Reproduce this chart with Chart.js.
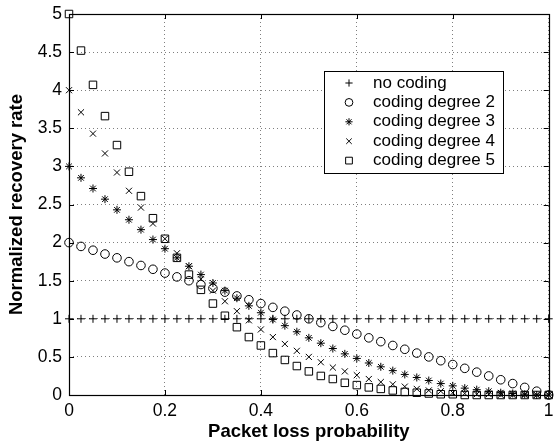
<!DOCTYPE html>
<html>
<head>
<meta charset="utf-8">
<script src="https://cdn.jsdelivr.net/npm/chart.js@4/dist/chart.umd.min.js"></script>
<style>
  html, body { margin: 0; padding: 0; background: #fff; }
  #wrap { width: 555px; height: 443px; }
</style>
</head>
<body>
<div id="wrap"><canvas id="lossChart" width="555" height="443"></canvas></div>
<script>
// packet loss probability, step 0.025
const lossProb = [0, 0.025, 0.05, 0.075, 0.1, 0.125, 0.15, 0.175, 0.2, 0.225, 0.25, 0.275, 0.3, 0.325, 0.35,
    0.375, 0.4, 0.425, 0.45, 0.475, 0.5, 0.525, 0.55, 0.575, 0.6, 0.625, 0.65, 0.675, 0.7, 0.725, 0.75,
    0.775, 0.8, 0.825, 0.85, 0.875, 0.9, 0.925, 0.95, 0.975, 1];

const noCoding = [1, 1, 1, 1, 1, 1, 1, 1, 1, 1, 1, 1, 1, 1, 1, 1, 1, 1, 1, 1, 1,
    1, 1, 1, 1, 1, 1, 1, 1, 1, 1, 1, 1, 1, 1, 1, 1, 1, 1, 1, 1];
const degree2 = [2, 1.95, 1.9, 1.85, 1.8, 1.75, 1.7, 1.65, 1.6, 1.55, 1.5, 1.45, 1.4, 1.35, 1.3, 1.25, 1.2,
    1.15, 1.1, 1.05, 1.0, 0.95, 0.9, 0.85, 0.8, 0.75, 0.7, 0.65, 0.6, 0.55, 0.5, 0.45, 0.4, 0.35, 0.3,
    0.25, 0.2, 0.15, 0.1, 0.05, 0];
const degree3 = [3, 2.85, 2.71, 2.57, 2.43, 2.30, 2.17, 2.04, 1.92, 1.80, 1.69, 1.58, 1.47, 1.37, 1.27, 1.17,
    1.08, 0.99, 0.91, 0.83, 0.75, 0.68, 0.61, 0.54, 0.48, 0.42, 0.37, 0.32, 0.27, 0.23, 0.19, 0.15, 0.12,
    0.09, 0.07, 0.05, 0.03, 0.02, 0.01, 0.00, 0];
const degree4 = [4, 3.71, 3.43, 3.17, 2.92, 2.68, 2.46, 2.25, 2.05, 1.86, 1.69, 1.52, 1.37, 1.23, 1.10, 0.98,
    0.86, 0.76, 0.67, 0.58, 0.5, 0.43, 0.36, 0.31, 0.26, 0.21, 0.17, 0.14, 0.11, 0.08, 0.06, 0.05, 0.03,
    0.02, 0.01, 0.01, 0.00, 0, 0, 0, 0];
const degree5 = [5, 4.52, 4.07, 3.66, 3.28, 2.93, 2.61, 2.32, 2.05, 1.80, 1.58, 1.38, 1.20, 1.04, 0.89, 0.76,
    0.65, 0.55, 0.46, 0.38, 0.31, 0.25, 0.21, 0.16, 0.13, 0.10, 0.08, 0.06, 0.04, 0.03, 0.02, 0.01, 0.01,
    0, 0, 0, 0, 0, 0, 0, 0];

const seriesNames = ['no coding', 'coding degree 2', 'coding degree 3', 'coding degree 4', 'coding degree 5'];
const xTicks = [0, 0.2, 0.4, 0.6, 0.8, 1];
const yTicks = [0, 0.5, 1, 1.5, 2, 2.5, 3, 3.5, 4, 4.5, 5];

const FONT = '"Liberation Sans", Arial, Helvetica, sans-serif';

const markers = [
    { style: 'cross', r: 4 },
    { style: 'circle', r: 4.3 },
    { style: 'star', r: 4 },
    { style: 'crossRot', r: 4.3 },
    { style: 'rect', r: 5.3 },
];

function toPoints(ys) {
    return lossProb.map((p, i) => ({ x: p, y: ys[i] }));
}

const allSeries = [noCoding, degree2, degree3, degree4, degree5];

const datasets = allSeries.map((ys, i) => ({
    label: seriesNames[i],
    data: toPoints(ys),
    showLine: false,
    pointStyle: markers[i].style,
    pointRadius: markers[i].r,
    pointHoverRadius: markers[i].r,
    pointBorderColor: '#000',
    pointBackgroundColor: 'rgba(0,0,0,0)',
    pointBorderWidth: 1,
    clip: false,
}));

// box around the plot plus the inward tick marks
const frame = {
    id: 'frame',
    beforeDatasetsDraw(chart) {
        const { ctx, chartArea: a, scales } = chart;
        ctx.save();
        ctx.strokeStyle = '#000';
        ctx.lineWidth = 1;
        ctx.beginPath();
        xTicks.forEach(v => {
            const x = Math.round(scales.x.getPixelForValue(v)) + 0.5;
            ctx.moveTo(x, a.bottom); ctx.lineTo(x, a.bottom - 5);
            ctx.moveTo(x, a.top); ctx.lineTo(x, a.top + 5);
        });
        yTicks.forEach(v => {
            const y = Math.round(scales.y.getPixelForValue(v)) + 0.5;
            ctx.moveTo(a.left, y); ctx.lineTo(a.left + 5, y);
            ctx.moveTo(a.right, y); ctx.lineTo(a.right - 5, y);
        });
        ctx.stroke();
        ctx.lineWidth = 1.2;
        ctx.strokeRect(Math.round(a.left) + 0.5, Math.round(a.top) + 0.5,
            Math.round(a.right - a.left), Math.round(a.bottom - a.top));
        ctx.restore();
    }
};

function drawMarker(ctx, style, r, x, y) {
    ctx.beginPath();
    if (style === 'circle') {
        ctx.arc(x, y, r, 0, Math.PI * 2);
    } else if (style === 'rect') {
        const s = r * Math.SQRT1_2;
        ctx.rect(x - s, y - s, 2 * s, 2 * s);
    } else {
        if (style === 'cross' || style === 'star') {
            ctx.moveTo(x - r, y); ctx.lineTo(x + r, y);
            ctx.moveTo(x, y - r); ctx.lineTo(x, y + r);
        }
        if (style === 'crossRot' || style === 'star') {
            const d = r * Math.SQRT1_2;
            ctx.moveTo(x - d, y - d); ctx.lineTo(x + d, y + d);
            ctx.moveTo(x - d, y + d); ctx.lineTo(x + d, y - d);
        }
    }
    ctx.stroke();
}

// legend box drawn inside the plot area
const legendBox = {
    id: 'legendBox',
    afterDatasetsDraw(chart) {
        const { ctx } = chart;
        ctx.save();
        ctx.fillStyle = '#fff';
        ctx.fillRect(324.5, 71.5, 179, 102);
        ctx.strokeStyle = '#000';
        ctx.lineWidth = 1;
        ctx.strokeRect(324.5, 71.5, 179, 102);
        ctx.font = '17px ' + FONT;
        ctx.fillStyle = '#000';
        ctx.textBaseline = 'middle';
        seriesNames.forEach((name, i) => {
            const y = 83 + i * 19.4;
            drawMarker(ctx, markers[i].style, markers[i].r * 0.9, 349, y);
            ctx.fillText(name, 373, y);
        });
        ctx.restore();
    }
};

new Chart(document.getElementById('lossChart'), {
    type: 'scatter',
    data: { datasets },
    options: {
        responsive: false,
        animation: false,
        events: [],
        layout: { padding: { top: 14, right: 3, left: 0, bottom: 0 } },
        plugins: {
            legend: { display: false },
            tooltip: { enabled: false },
        },
        scales: {
            x: {
                type: 'linear',
                min: 0,
                max: 1,
                afterFit(scale) {
                    scale.height = 48;
                    scale.paddingLeft = 0;
                    scale.paddingRight = 0;
                },
                afterBuildTicks(scale) { scale.ticks = xTicks.map(v => ({ value: v })); },
                ticks: {
                    color: '#000',
                    padding: 6,
                    maxRotation: 0,
                    callback: v => String(v),
                    font: { family: FONT, size: 17.5 },
                },
                grid: { color: 'rgba(0,0,0,0.5)', drawTicks: false, lineWidth: 1 },
                border: { display: false, dash: [1, 3] },
                title: {
                    display: true,
                    text: 'Packet loss probability',
                    color: '#000',
                    padding: { top: 0, bottom: 0 },
                    font: { family: FONT, size: 18.5, weight: 'bold' },
                },
            },
            y: {
                type: 'linear',
                min: 0,
                max: 5,
                afterFit(scale) {
                    scale.width = 69;
                    scale.paddingTop = 0;
                    scale.paddingBottom = 0;
                },
                afterBuildTicks(scale) { scale.ticks = yTicks.map(v => ({ value: v })); },
                ticks: {
                    color: '#000',
                    padding: 7,
                    callback: v => String(v),
                    font: { family: FONT, size: 17.5 },
                },
                grid: { color: 'rgba(0,0,0,0.5)', drawTicks: false, lineWidth: 1 },
                border: { display: false, dash: [1, 3] },
                title: {
                    display: true,
                    text: 'Normalized recovery rate',
                    color: '#000',
                    padding: { top: 6, bottom: 0 },
                    font: { family: FONT, size: 18.5, weight: 'bold' },
                },
            },
        },
    },
    plugins: [frame, legendBox],
});
</script>
</body>
</html>
